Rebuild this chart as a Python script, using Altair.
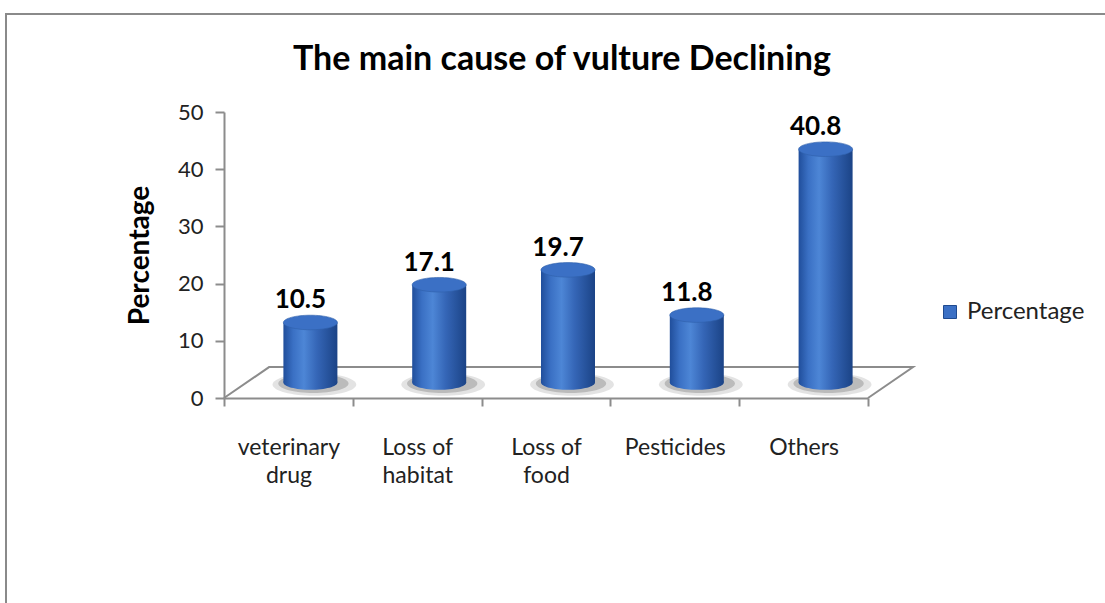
import altair as alt
import pandas as pd

# ---- data ---------------------------------------------------------------
causes = ["veterinary drug", "Loss of habitat", "Loss of food", "Pesticides", "Others"]
percentages = [10.5, 17.1, 19.7, 11.8, 40.8]
series_name = "Percentage"
y_ticks = [0, 10, 20, 30, 40, 50]

# ---- geometry / style ---------------------------------------------------
W, H = 644, 286                 # plot area
PAD = {"left": 224, "top": 112, "right": 1105 - 224 - 644, "bottom": 603 - 112 - 286}
N = len(causes)
DEPTH_X = 0.35                  # floor depth, in category steps
DEPTH_Y = 5.4                   # floor depth, in axis units
BASE = DEPTH_Y / 2              # cylinders stand half-way back on the floor
SHIFT = 22                      # matching horizontal shift of the cylinders (px)
BAR_W = 54
GREY = "#8c8c8c"
FONT = "Lato"

ELLIPSE = "M -1 0 A 1 0.27 0 1 1 1 0 A 1 0.27 0 1 1 -1 0 Z"

df = pd.DataFrame({"cause": causes, "pct": percentages, "series": series_name})

floor = pd.DataFrame({
    "fx": [0, DEPTH_X, N + DEPTH_X, N],
    "fy": [0, DEPTH_Y, DEPTH_Y, 0],
    "k": [0, 1, 2, 3],
})

bar_fill = alt.Gradient(
    gradient="linear", x1=0, x2=1, y1=0, y2=0,
    stops=[
        alt.GradientStop(color="#204e9b", offset=0),
        alt.GradientStop(color="#3a70c4", offset=0.18),
        alt.GradientStop(color="#4d86d6", offset=0.38),
        alt.GradientStop(color="#3566b7", offset=0.62),
        alt.GradientStop(color="#1b4386", offset=1),
    ],
)

y_scale = alt.Scale(domain=[0, 50])
y_axis = alt.Axis(
    values=y_ticks, domainColor=GREY, domainWidth=2, tickColor=GREY, tickWidth=2,
    tickSize=9, labelFont=FONT, labelFontSize=22, labelColor="#222222",
    labelPadding=12, titleFont=FONT, titleFontSize=28, titleFontWeight="bold",
    titleColor="#000000", titleX=-84, titleY=H / 2, titleBaseline="middle",
    titleAngle=270, grid=False,
)
x_axis = alt.Axis(
    tickBand="extent", labelAngle=0, domainColor=GREY, domainWidth=2,
    tickColor=GREY, tickWidth=2, tickSize=8, labelFont=FONT, labelFontSize=23,
    labelColor="#222222", labelPadding=30, labelLineHeight=28, grid=False,
    labelExpr="indexof(datum.label, ' ') < 0 ? datum.label : "
              "[slice(datum.label, 0, lastindexof(datum.label, ' ')), "
              "slice(datum.label, lastindexof(datum.label, ' ') + 1)]",
)


def x_enc():
    return alt.X("cause:N", sort=causes, title=None,
                 scale=alt.Scale(domain=causes, paddingInner=0, paddingOuter=0),
                 axis=x_axis)


def y_enc(field):
    return alt.Y(field, scale=y_scale, title="Percentage", axis=y_axis)


base = alt.Chart(df).transform_calculate(
    y0=f"{BASE}", y1=f"{BASE} + datum.pct"
)

shadow_outer = base.mark_point(
    shape=ELLIPSE, filled=True, size=(BAR_W * 1.55) ** 2, color="#8f8f8f",
    opacity=0.25, xOffset=SHIFT + 4, yOffset=2,
).encode(x=x_enc(), y=y_enc("y0:Q"))

shadow_inner = base.mark_point(
    shape=ELLIPSE, filled=True, size=(BAR_W * 1.3) ** 2, color="#6f6f6f",
    opacity=0.35, xOffset=SHIFT + 3, yOffset=1,
).encode(x=x_enc(), y=y_enc("y0:Q"))

bottom_cap = base.mark_point(
    shape=ELLIPSE, filled=True, size=BAR_W ** 2, color=bar_fill, opacity=1,
    xOffset=SHIFT,
).encode(x=x_enc(), y=y_enc("y0:Q"))

body = base.mark_bar(width=BAR_W, xOffset=SHIFT, color=bar_fill).encode(
    x=x_enc(), y=y_enc("y0:Q"), y2="y1:Q",
)

top_cap = base.mark_point(
    shape=ELLIPSE, filled=True, size=BAR_W ** 2, opacity=1, xOffset=SHIFT,
    stroke="#2f5faa", strokeWidth=0.6,
).encode(
    x=x_enc(),
    y=y_enc("y1:Q"),
    color=alt.Color(
        "series:N", scale=alt.Scale(range=["#3b70c5"]),
        legend=alt.Legend(
            title=None, orient="none", legendX=714, legendY=188,
            symbolType="square", symbolSize=169, symbolStrokeColor="#1f4a8f",
            symbolStrokeWidth=1, labelFont=FONT, labelFontSize=24,
            labelColor="#222222", labelOffset=5,
        ),
    ),
)

labels = base.mark_text(
    font=FONT, fontSize=26, fontWeight="bold", color="#000000",
    baseline="alphabetic", dx=SHIFT - 10, dy=-14,
).encode(
    x=x_enc(),
    y=y_enc("y1:Q"),
    text=alt.Text("pct:Q", format=".1f"),
)

cylinders = alt.layer(shadow_outer, shadow_inner, bottom_cap, body, top_cap, labels)

floor_lines = alt.Chart(floor).mark_line(color=GREY, strokeWidth=2).encode(
    x=alt.X("fx:Q", scale=alt.Scale(domain=[0, N], nice=False, zero=False), axis=None),
    y=y_enc("fy:Q"),
    order="k:Q",
)

# outer chart-area border
frame = alt.Chart(pd.DataFrame({"k": [0]})).mark_rect(
    filled=False, stroke="#8a8a8a", strokeWidth=2,
).encode(
    x=alt.value(6 - PAD["left"]), x2=alt.value(W + PAD["right"] + 20),
    y=alt.value(14 - PAD["top"]), y2=alt.value(H + PAD["bottom"] + 20),
)

chart = alt.layer(frame, floor_lines, cylinders).resolve_scale(
    x="independent"
).properties(
    width=W, height=H,
    # the border rect sits above the title, so the title is pulled back down into the frame
    title=alt.TitleParams(
        "The main cause of vulture Declining", font=FONT, fontSize=34,
        fontWeight="bold", color="#000000", anchor="middle", frame="group",
        dx=16, dy=64, offset=0,
    ),
    autosize=alt.AutoSizeParams(type="none"),
    padding=PAD,
    background="white",
).configure_view(stroke=None)

chart.save("out.html", embed_options={"renderer": "svg", "actions": False})
